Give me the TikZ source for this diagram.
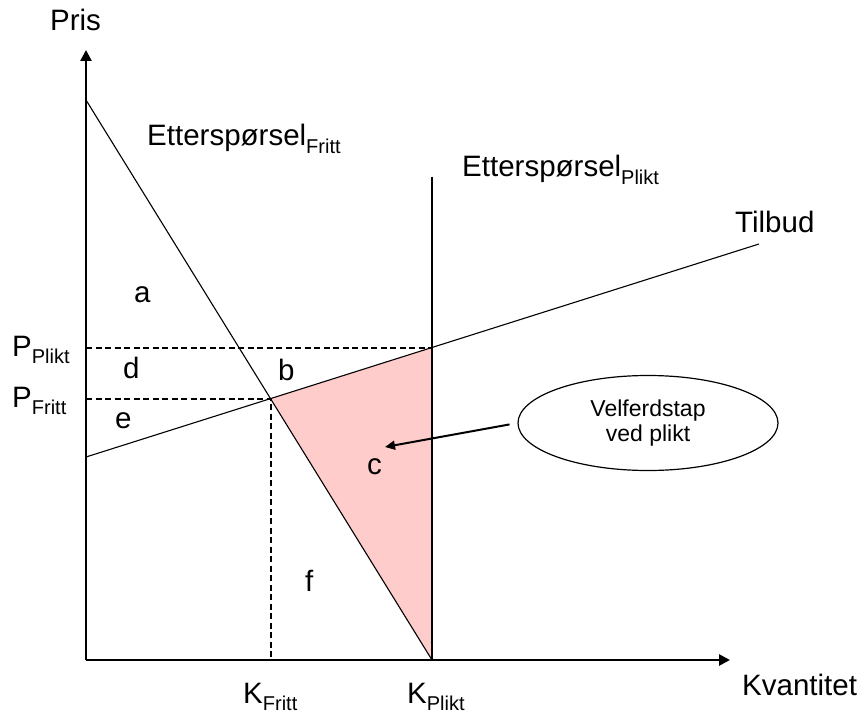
\documentclass[tikz,border=0pt]{standalone}
\usepackage{fontspec}
\setmainfont{Liberation Sans}
\usetikzlibrary{arrows.meta,shapes.geometric}

\newcommand{\lowsub}[1]{\raisebox{-7.5pt}{\fontsize{20}{24}\selectfont #1}}

\begin{document}
\begin{tikzpicture}[
  x=1pt, y=-1pt,
  every node/.style={inner sep=0pt},
  lbl/.style={anchor=base west, font=\fontsize{29.5}{34}\selectfont},
  akse/.style={line width=2.6pt, -{Triangle[width=11pt,length=11pt]}},
  kurve/.style={line width=1.1pt},
  hjelp/.style={line width=2pt, dash pattern=on 6pt off 3.5pt},
  tap/.style={fill=red!20},
  boble/.style={ellipse, draw, line width=1.2pt, minimum width=260pt,
    minimum height=95pt, align=center, font=\fontsize{23}{25}\selectfont},
  pil/.style={line width=2pt, -{Triangle[width=9pt,length=10pt]}, shorten <=8pt}
]
\useasboundingbox (0,0) rectangle (861,714);
% punkter
\coordinate (O) at (86,660);
\coordinate (ytop) at (86,50);
\coordinate (xend) at (730,660);
\coordinate (d1) at (86,100);
\coordinate (d2) at (432,660);
\coordinate (s1) at (86,457);
\coordinate (s2) at (759,244);
\coordinate (v1) at (432,177);
\coordinate (eqF) at (intersection of d1--d2 and s1--s2);
\coordinate (eqP) at (intersection of v1--d2 and s1--s2);
\coordinate (pP) at (O |- eqP);
\coordinate (pF) at (O |- eqF);
\coordinate (kF) at (eqF |- O);
\coordinate (ctip) at (385,447);

% velferdstap
\fill[tap] (eqF) -- (eqP) -- (d2) -- cycle;
\draw[hjelp] (pP) -- (eqP);
\draw[hjelp] (pF) -- (eqF) -- (kF);

% kurver og akser
\draw[kurve] (d1) -- (d2);
\draw[kurve] (s1) -- (s2);
\draw[kurve] (v1) -- (d2);
\draw[akse] (O) -- (ytop);
\draw[akse] (O) -- (xend);

% tekst
\node[lbl] (pris) at (50,31) {Pris};
\node[lbl] (kvant) at (742,695) {Kvantitet};
\node[lbl] (eF) at (147,146) {Etterspørsel\lowsub{Fritt}};
\node[lbl] (eP) at (462,177) {Etterspørsel\lowsub{Plikt}};
\node[lbl] (tilbud) at (735,232) {Tilbud};
\node[lbl] (pPl) at (12,356) {P\lowsub{Plikt}};
\node[lbl] (pFr) at (12,407) {P\lowsub{Fritt}};
\node[lbl] (kFr) at (243,703) {K\lowsub{Fritt}};
\node[lbl] (kPl) at (407,703) {K\lowsub{Plikt}};
\node[lbl] (la) at (134,302) {a};
\node[lbl] (lb) at (278,380) {b};
\node[lbl] (lc) at (367,474) {c};
\node[lbl] (ld) at (123,378) {d};
\node[lbl] (le) at (115,428) {e};
\node[lbl] (lf) at (305,591) {f};

\node[boble] (tapboks) at (648,423) {Velferdstap\\ved plikt};
\draw[pil] (tapboks.west) -- (ctip);
\end{tikzpicture}
\end{document}
